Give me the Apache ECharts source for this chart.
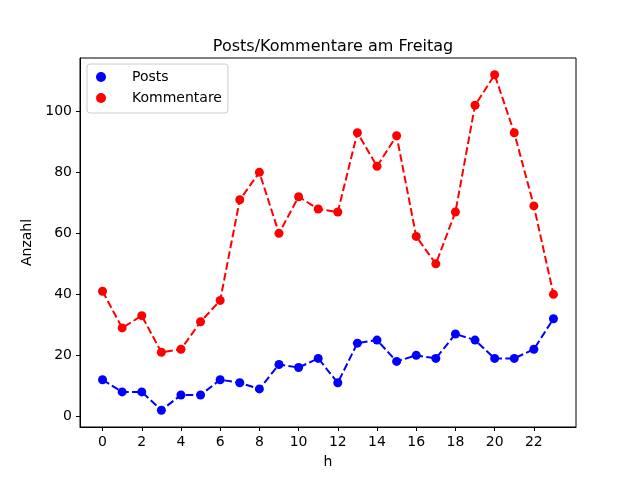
<!DOCTYPE html>
<html>
<head>
<meta charset="utf-8">
<script src="https://cdn.jsdelivr.net/npm/echarts@6/dist/echarts.min.js"></script>
<style>
  html, body { margin: 0; padding: 0; background: #fff; }
  #chart { width: 640px; height: 480px; }
</style>
</head>
<body>
<div id="chart"></div>
<script>
// Stunden 0..23
const hours = [0, 1, 2, 3, 4, 5, 6, 7, 8, 9, 10, 11, 12, 13, 14, 15, 16, 17, 18, 19, 20, 21, 22, 23];
const posts = [12, 8, 8, 2, 7, 7, 12, 11, 9, 17, 16, 19, 11, 24, 25, 18, 20, 19, 27, 25, 19, 19, 22, 32];
const kommentare = [41, 29, 33, 21, 22, 31, 38, 71, 80, 60, 72, 68, 67, 93, 82, 92, 59, 50, 67, 102, 112, 93, 69, 40];
const xTicks = [0, 2, 4, 6, 8, 10, 12, 14, 16, 18, 20, 22];
const yTicks = [0, 20, 40, 60, 80, 100];

const font = "DejaVu Sans";
const chart = echarts.init(document.getElementById("chart"));

const pairs = (ys) => hours.map((h, i) => [h, ys[i]]);

const makeSeries = (name, ys, color) => ({
  name: name,
  type: "line",
  data: pairs(ys),
  symbol: "circle",
  symbolSize: 9,
  itemStyle: { color: color },
  lineStyle: { color: color, width: 2, type: [7.7, 3.3] },
  emphasis: { disabled: true },
  animation: false,
});

chart.setOption({
  animation: false,
  textStyle: { fontFamily: font },
  title: {
    text: "Posts/Kommentare am Freitag",
    left: 328,
    top: 34,
    textAlign: "center",
    textStyle: { fontFamily: font, fontSize: 16, fontWeight: "normal", color: "#000" },
  },
  legend: {
    left: 87,
    top: 64,
    orient: "vertical",
    icon: "circle",
    itemWidth: 20,
    itemHeight: 10,
    itemGap: 7,
    padding: [6, 6, 8, 9],
    backgroundColor: "#fff",
    borderColor: "#ccc",
    borderWidth: 1,
    borderRadius: 3,
    textStyle: { fontFamily: font, fontSize: 14, color: "#000", padding: [0, 0, 0, 16] },
    data: ["Posts", "Kommentare"],
  },
  grid: {
    left: 80,
    right: 64,
    top: 58,
    bottom: 53,
    show: true,
    borderColor: "#000",
    borderWidth: 1,
    backgroundColor: "transparent",
  },
  xAxis: {
    type: "value",
    min: -1.15,
    max: 24.15,
    name: "h",
    nameLocation: "middle",
    nameGap: 28,
    nameTextStyle: { fontFamily: font, fontSize: 14, color: "#000" },
    axisLine: { show: true, onZero: false, lineStyle: { color: "#000" } },
    axisTick: { show: true, length: 4, lineStyle: { color: "#000" }, customValues: xTicks },
    axisLabel: { fontFamily: font, fontSize: 14, color: "#000", margin: 8, customValues: xTicks },
    splitLine: { show: false },
  },
  yAxis: {
    type: "value",
    min: -3.5,
    max: 117.5,
    name: "Anzahl",
    nameLocation: "middle",
    nameGap: 40,
    nameRotate: 90,
    nameTextStyle: { fontFamily: font, fontSize: 14, color: "#000" },
    axisLine: { show: true, onZero: false, lineStyle: { color: "#000" } },
    axisTick: { show: true, length: 4, lineStyle: { color: "#000" }, customValues: yTicks },
    axisLabel: { fontFamily: font, fontSize: 14, color: "#000", margin: 8, customValues: yTicks },
    splitLine: { show: false },
  },
  series: [
    makeSeries("Posts", posts, "#0000ff"),
    makeSeries("Kommentare", kommentare, "#ff0000"),
  ],
});
</script>
</body>
</html>
